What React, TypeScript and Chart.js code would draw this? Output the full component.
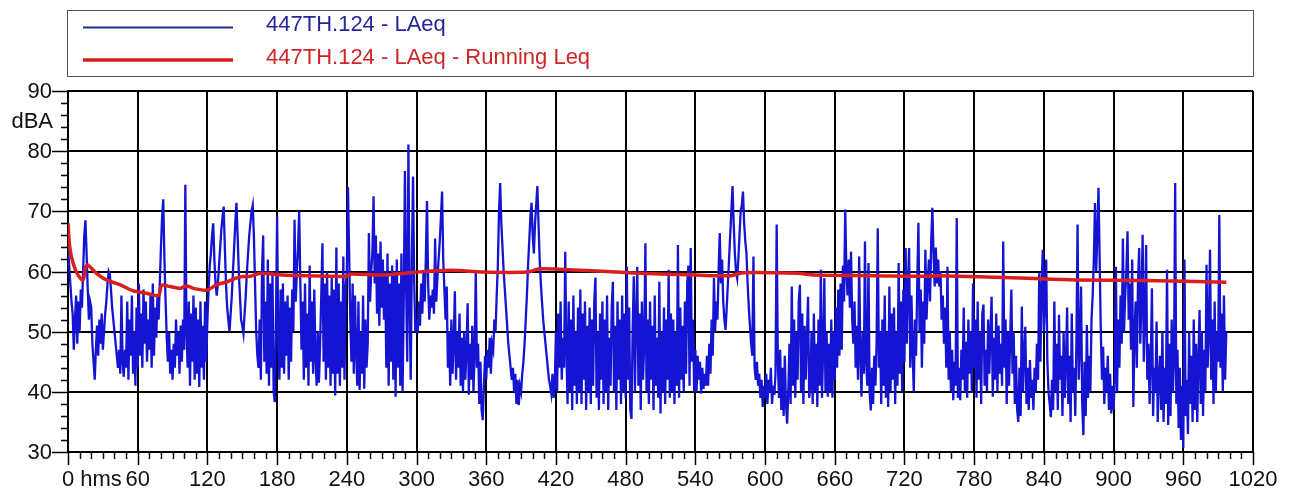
import React, { useEffect, useRef } from 'react';
import { Chart, registerables } from 'chart.js';

Chart.register(...registerables);

// LAeq, one value per second from t = 0 s
const laeq: number[] = [
  64, 61, 58, 55, 53, 47, 52, 56, 48, 55,
  50, 57, 54, 60, 66, 68.5, 63, 57, 52, 55,
  54, 48, 45, 42, 47, 51, 46, 52, 48, 53,
  47, 50, 53, 55, 58, 60, 59.5, 57, 54, 52,
  50, 48, 46, 44, 47, 43, 56, 45, 42.5, 47,
  44, 55, 42, 52, 46, 56, 43, 50, 41, 54,
  44, 58, 46, 53, 44, 57, 48, 55, 45, 52,
  47, 56, 44, 58, 46, 54, 49, 56, 52, 58,
  64, 69, 72, 62, 55, 49, 45, 50, 43, 47,
  42, 48, 44, 52, 46, 50, 43, 51, 45, 52,
  47, 74.4, 50, 44, 55, 41, 53, 45, 56, 42,
  54, 43, 52, 40.8, 55, 44, 51, 42, 55, 45,
  52, 57, 61, 63, 66, 68, 62, 58, 56, 58,
  61, 64, 67, 69, 70.8, 64, 58, 54, 52, 50,
  53, 56, 60, 64, 68, 71.4, 66, 60, 56, 52,
  51, 49.7, 53, 56, 60, 63, 66, 68, 70, 71,
  66, 58, 50, 46, 44, 52, 42, 60, 66, 45,
  55, 43, 62, 41, 58, 44, 60, 40, 38.3, 52,
  69.2, 48, 42, 57, 44, 58, 43, 55, 46, 56,
  42, 54, 45, 57, 50, 68.6, 55, 60, 64, 70,
  58, 47, 55, 42, 58, 44, 53, 41, 61, 45,
  55, 43, 57, 46, 41, 50, 41.5, 48, 56, 64.7,
  45, 58, 42, 60, 44, 56, 41, 59, 43, 57,
  39.4, 64, 43, 58, 41, 55, 44, 62.5, 42, 57,
  60, 74, 63, 52, 45, 58, 43, 56, 47, 41,
  55, 40.3, 50, 43, 56, 40.5, 52, 44, 48, 66.4,
  55, 60, 63, 72.5, 58, 66, 53, 63, 51, 65,
  54, 62, 52, 60, 44, 63, 41, 58, 45, 61,
  42, 60, 39.2, 62, 44, 58, 41, 63, 40, 55,
  76.7, 58, 45, 81.1, 55, 42, 62, 75.8, 58, 50,
  52, 49.7, 55, 51, 58, 53, 60, 55, 62, 71.7,
  58, 52, 56, 54, 57, 53, 65.5, 55, 59, 62,
  65, 69, 73.3, 62, 57, 52, 57.5, 44, 50, 41,
  52, 43, 48, 56.7, 42, 50, 44, 53, 41, 49,
  40, 50, 42, 47, 54.7, 39.5, 48, 42, 51, 40,
  46, 60, 44, 48, 38, 45, 37, 35.3, 41, 46,
  42, 47, 44, 49, 43, 48, 47, 52, 50, 56,
  61, 70, 74.7, 68, 64, 60, 57, 54, 51, 48,
  46, 44, 42, 44, 40, 43, 38, 42, 37.8, 41,
  40, 43, 45, 48, 52, 56, 61, 65, 69, 71.4,
  66, 63, 68, 71, 74.2, 68, 62, 58, 55, 52,
  50, 48, 46, 44, 42, 41, 39.7, 43, 39, 41,
  50, 40, 53, 44, 55, 42, 49, 44, 63.3, 47,
  38, 55, 40, 52, 37, 56, 41, 50, 38, 54,
  40, 57, 38, 53, 42, 55, 37, 51, 40, 54,
  38, 52, 41, 55, 59, 39, 50, 37, 53, 42,
  55, 38, 52, 40, 56, 37, 49, 41, 54, 58.3,
  40, 51, 37, 55, 42, 52, 38, 56, 40, 53,
  39, 60.8, 42, 54, 37, 35.5, 50, 59.2, 40, 52,
  60.8, 41, 53, 37, 55, 42, 48, 64.7, 40, 52,
  38, 55, 42, 51, 37, 56, 41, 49, 39, 58.3,
  36.4, 50, 40, 54, 38, 52, 42, 60.3, 39, 53,
  40, 52, 38, 50, 41, 64.4, 39, 54, 42, 51,
  40, 55, 43, 58, 61, 41, 63.9, 45, 52, 40,
  47, 40, 46, 42, 45, 39.7, 44, 40.5, 43, 41,
  46, 41, 48, 43, 52, 46, 58.9, 50, 55, 52,
  60, 66.4, 58, 62, 55, 52, 50.3, 54, 58, 62,
  66, 70, 74.2, 68, 63, 60, 58.9, 62, 66, 70,
  71, 73.3, 68, 65, 63, 58, 54, 51, 48, 46,
  62.5, 44, 42, 45, 41, 43, 39, 42, 37.5, 41,
  39, 43, 38, 42, 40, 44, 38, 41, 39.5, 43,
  67.8, 45, 39, 47, 37, 44, 36, 46, 38, 34.7,
  40, 48, 38, 57.5, 41, 52, 39, 50, 42, 55,
  57.8, 40, 53, 38, 51, 42, 49, 55.8, 39, 41,
  50, 38, 53, 40, 48, 37.5, 52, 41, 60.3, 39,
  47, 58.9, 40, 50, 39.2, 48, 40, 52, 39, 50,
  42, 54, 44, 57, 46, 58, 47, 61, 55, 70.3,
  60, 56, 62, 54, 63.3, 52, 48, 55, 44, 51,
  42, 62.5, 46, 39.2, 50, 43, 65, 45, 41, 61.4,
  40, 36.9, 44, 38, 46, 41, 48, 67.2, 44, 50,
  38, 52, 41, 56, 39, 50, 37.5, 57.5, 40, 53,
  42, 54, 38, 50, 41, 61.4, 43, 55, 40, 57,
  45, 63.9, 48, 58, 63.9, 44, 56, 47, 40, 52,
  46, 58, 68.1, 50, 57, 44, 55, 48, 63.6, 52,
  58, 62, 55, 65, 70.6, 63, 57.5, 64, 58, 62,
  57.5, 60, 52, 56, 48, 54, 44, 60.8, 42, 50,
  40, 47, 38.6, 45, 41, 68.9, 39, 44, 38.6, 47,
  42, 54, 40, 48.3, 39, 52, 43, 50, 40, 58,
  44, 52, 39, 55, 42, 50, 38, 53, 54.5, 41,
  47, 40, 52, 43, 50, 55.8, 39.2, 49, 42, 53,
  40, 51, 43, 48, 41, 65, 44, 52, 38, 50,
  41, 49, 57, 43, 50, 38, 46, 37, 35, 44,
  36, 54.2, 40, 46, 50.8, 38, 44, 37, 45.3, 39,
  42, 37, 44, 40, 48, 42, 59.7, 45, 57, 63.6,
  50, 55, 62, 45, 40, 38, 35.8, 42, 37, 55,
  40, 48, 37, 52.8, 42, 46, 36, 50, 39, 45,
  54, 38, 46, 35, 53, 40, 44, 36, 48, 67.8,
  42, 48, 57.5, 38, 32.8, 45, 36, 51.1, 39, 46,
  40, 52, 56, 62, 71.4, 60, 66, 73.9, 62, 50,
  42, 47.5, 38, 44, 40, 46, 37, 43, 36.4, 41,
  37, 42, 60.8, 40, 52, 44, 56, 48, 65.5, 50,
  56, 60, 66.7, 52, 58, 47, 62, 37.5, 50, 55,
  44, 58, 63.9, 48, 55, 66.1, 45, 52, 64.4, 42,
  48, 38, 45, 57.2, 36, 44, 40, 51.7, 35, 42,
  46, 37, 50, 35, 44, 38, 60.3, 34.5, 48, 36,
  52, 40, 45, 74.7, 38, 47, 34, 44, 32, 41,
  30.6, 62, 36, 42, 33, 50, 38, 46, 35, 52,
  37, 48, 35, 45, 53.6, 38, 50, 36, 47, 40,
  61.1, 44, 50, 63.6, 42, 52, 38, 55, 40, 50,
  45, 69.4, 44, 53, 40, 56, 42, 50,
];

// Running Leq, read at these times (s)
const runTimes: number[] = [
  0, 1.4, 4.3, 8.6, 13, 15.3, 17, 24.5, 33, 44.6,
  56, 67.7, 77.8, 80.6, 87.8, 96.5, 102, 108, 119.5, 128,
  137, 148, 157, 165.6, 185, 228, 240, 243, 271, 294,
  329, 357.5, 395, 405, 418, 464, 492, 541, 570, 581,
  627, 644, 693, 742, 748, 819.5, 868, 926, 997,
];
const runLevels: number[] = [
  68.1, 64.2, 61.4, 59.4, 58.6, 60.8, 61.1, 59.7, 58.6, 57.8,
  56.8, 56.4, 56.0, 57.7, 57.5, 57.2, 57.6, 57.2, 56.9, 57.8,
  58.3, 59.1, 59.2, 59.7, 59.4, 59.2, 59.2, 59.6, 59.4, 59.8,
  60.2, 59.9, 59.9, 60.4, 60.4, 60.0, 59.7, 59.4, 59.3, 59.8,
  59.7, 59.4, 59.3, 59.2, 59.3, 58.9, 58.6, 58.5, 58.2,
];

const yTicks: number[] = [30, 40, 50, 60, 70, 80, 90];
const xTicks: number[] = [0, 60, 120, 180, 240, 300, 360, 420, 480, 540, 600, 660, 720, 780, 840, 900, 960, 1020];
const seriesNames: string[] = ['447TH.124 - LAeq', '447TH.124 - LAeq - Running Leq'];
const yUnit = 'dBA';
const xFirstLabel = '0 hms';

const FONT = '"Liberation Sans", Arial, sans-serif';
const BLUE = '#1414d2';
const RED = '#d81e1e';

export default function App() {
  const ref = useRef<HTMLCanvasElement | null>(null);

  useEffect(() => {
    document.body.style.margin = '0';
    const canvas = ref.current;
    if (!canvas) return;

    const decor = {
      id: 'decor',
      afterDraw(chart: any) {
        const ctx = chart.ctx as CanvasRenderingContext2D;
        const xs = chart.scales.x;
        const ys = chart.scales.y;
        const area = chart.chartArea;
        ctx.save();
        ctx.strokeStyle = '#000';
        ctx.fillStyle = '#111';
        ctx.lineWidth = 1.5;
        // y ticks
        for (let v = 30; v <= 90; v += 2) {
          const py = Math.round(ys.getPixelForValue(v)) + 0.5;
          const major = v % 10 === 0;
          ctx.beginPath();
          ctx.moveTo(area.left - (major ? 16 : 7), py);
          ctx.lineTo(area.left, py);
          ctx.stroke();
        }
        ctx.font = `22px ${FONT}`;
        ctx.textAlign = 'right';
        ctx.textBaseline = 'middle';
        yTicks.forEach((v) => {
          ctx.fillText(String(v), area.left - 16, ys.getPixelForValue(v) + 1);
        });
        ctx.fillText(yUnit, area.left - 15, ys.getPixelForValue(85) + 1);
        // x ticks
        for (let t = 0; t <= 1020; t += 10) {
          const px = Math.round(xs.getPixelForValue(t)) + 0.5;
          const major = t % 60 === 0;
          ctx.beginPath();
          ctx.moveTo(px, area.bottom);
          ctx.lineTo(px, area.bottom + (major ? 13 : 7));
          ctx.stroke();
        }
        ctx.textBaseline = 'middle';
        xTicks.forEach((v) => {
          const px = xs.getPixelForValue(v);
          if (v === 0) {
            ctx.textAlign = 'left';
            const w0 = ctx.measureText('0').width;
            ctx.fillText(xFirstLabel, px - w0 / 2, area.bottom + 28);
          } else {
            ctx.textAlign = 'center';
            ctx.fillText(String(v), px, area.bottom + 28);
          }
        });
        // legend box
        ctx.strokeStyle = '#555';
        ctx.lineWidth = 1;
        ctx.strokeRect(67.5, 10.5, 1186, 66);
        ctx.lineWidth = 2;
        ctx.strokeStyle = '#1e2a8c';
        ctx.beginPath();
        ctx.moveTo(83, 27.5);
        ctx.lineTo(233, 27.5);
        ctx.stroke();
        ctx.lineWidth = 3.5;
        ctx.strokeStyle = RED;
        ctx.beginPath();
        ctx.moveTo(83, 60);
        ctx.lineTo(233, 60);
        ctx.stroke();
        ctx.font = `22px ${FONT}`;
        ctx.textAlign = 'left';
        ctx.textBaseline = 'middle';
        ctx.fillStyle = '#26269c';
        ctx.fillText(seriesNames[0], 266, 25);
        ctx.fillStyle = '#cc2626';
        ctx.fillText(seriesNames[1], 266, 58);
        ctx.restore();
      },
    };

    const chart = new Chart(canvas, {
      type: 'line',
      data: {
        datasets: [
          {
            label: seriesNames[1],
            data: runTimes.map((t, i) => ({ x: t, y: runLevels[i] })),
            borderColor: RED,
            borderWidth: 3.5,
            pointRadius: 0,
            tension: 0.3,
            fill: false,
          },
          {
            label: seriesNames[0],
            data: laeq.map((v, i) => ({ x: i, y: v })),
            borderColor: BLUE,
            borderWidth: 2.3,
            pointRadius: 0,
            tension: 0,
            fill: false,
          },
        ],
      },
      options: {
        animation: false,
        responsive: false,
        devicePixelRatio: 1,
        events: [],
        layout: { padding: { left: 0, top: 91, right: 38, bottom: 0 } },
        plugins: { legend: { display: false }, tooltip: { enabled: false } },
        scales: {
          x: {
            type: 'linear',
            min: 0,
            max: 1020,
            afterBuildTicks: (s: any) => {
              s.ticks = xTicks.map((v) => ({ value: v }));
            },
            afterFit: (s: any) => {
              s.height = 43;
            },
            ticks: { display: false },
            grid: { color: '#000', lineWidth: 2, drawTicks: false },
            border: { color: '#000', width: 2 },
          },
          y: {
            type: 'linear',
            min: 30,
            max: 90,
            afterBuildTicks: (s: any) => {
              s.ticks = yTicks.map((v) => ({ value: v }));
            },
            afterFit: (s: any) => {
              s.width = 68;
            },
            ticks: { display: false },
            grid: { color: '#000', lineWidth: 2, drawTicks: false },
            border: { color: '#000', width: 2 },
          },
        },
      },
      plugins: [decor],
    });

    return () => chart.destroy();
  }, []);

  return (
    <div style={{ position: 'absolute', left: 0, top: 0, width: 1291, height: 495, background: '#fff' }}>
      <canvas ref={ref} width={1291} height={495} style={{ display: 'block' }} />
    </div>
  );
}
